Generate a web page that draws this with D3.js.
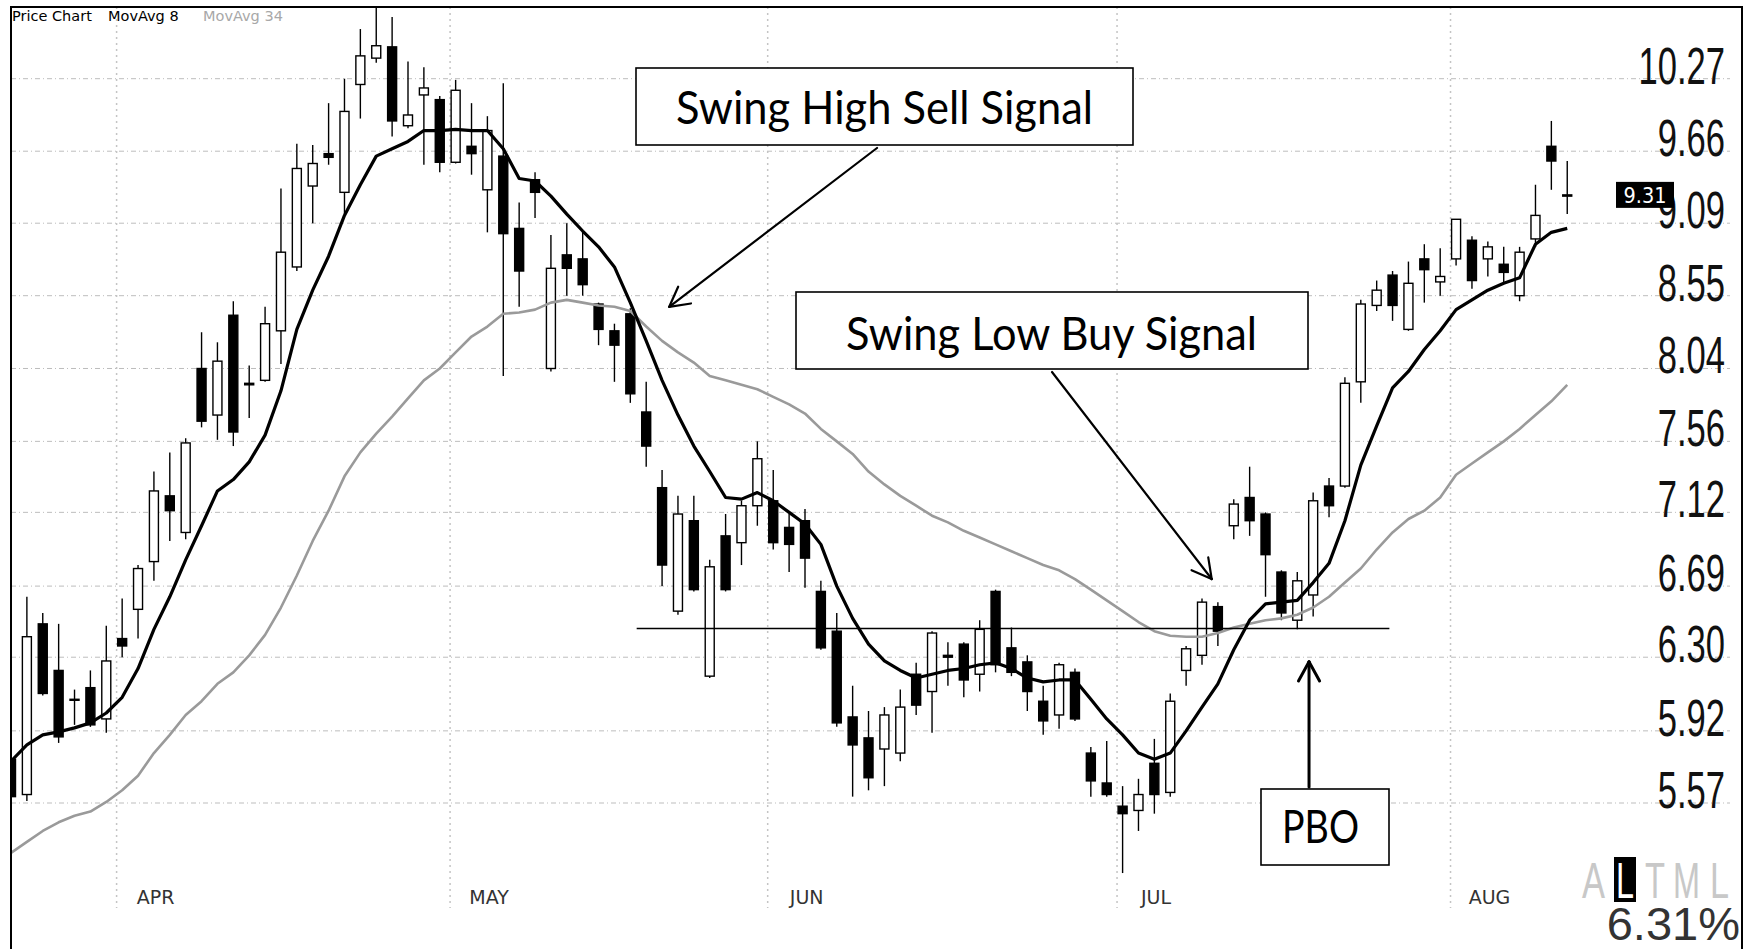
<!DOCTYPE html>
<html>
<head>
<meta charset="utf-8">
<script src="https://cdn.jsdelivr.net/npm/d3@7/dist/d3.min.js"></script>
<style>
  body { margin: 0; background: #fff; }
  svg { display: block; }
</style>
</head>
<body>
<div id="chart"></div>
<script>
// daily candles (index 0 .. 98)
const opens = [5.78, 5.61, 6.48, 6.23, 6.08, 6.14, 5.98, 6.40, 6.56, 6.83,
  7.22, 7.00, 8.04, 7.73, 8.41, 7.94, 7.96, 8.30, 8.76, 9.38,
  9.64, 9.33, 10.22, 10.45, 10.55, 9.87, 10.13, 10.09, 9.57, 9.70,
  9.35, 9.62, 9.05, 9.43, 8.04, 8.85, 8.82, 8.49, 8.30, 8.42,
  7.75, 7.27, 6.55, 7.07, 6.20, 6.98, 6.94, 7.16, 7.19, 7.03,
  7.07, 6.66, 6.44, 5.99, 5.885, 5.83, 5.81, 6.21, 6.12, 6.31,
  6.37, 6.21, 6.66, 6.35, 6.275, 6.07, 6.00, 6.22, 5.81, 5.665,
  5.555, 5.535, 5.76, 5.62, 6.23, 6.31, 6.575, 7.04, 7.21, 7.11,
  6.77, 6.50, 6.64, 7.28, 7.28, 7.95, 8.48, 8.70, 8.31, 8.82,
  8.65, 8.82, 8.96, 8.82, 8.78, 8.55, 8.97, 9.70, 9.30];
const highs = [5.80, 6.63, 6.54, 6.48, 6.13, 6.23, 6.47, 6.62, 6.81, 7.37,
  7.49, 7.58, 8.29, 8.22, 8.51, 8.06, 8.47, 9.36, 9.72, 9.71,
  10.06, 10.27, 10.71, 10.95, 10.82, 10.42, 10.37, 10.12, 10.26, 10.06,
  9.95, 10.23, 9.25, 9.49, 9.00, 9.09, 9.03, 8.50, 8.35, 8.46,
  7.95, 7.38, 7.22, 7.22, 6.84, 7.11, 7.19, 7.56, 7.38, 7.11,
  7.14, 6.72, 6.54, 6.15, 6.02, 6.04, 6.13, 6.27, 6.44, 6.38,
  6.38, 6.50, 6.67, 6.46, 6.31, 6.15, 6.27, 6.24, 5.84, 5.87,
  5.65, 5.685, 5.88, 6.11, 6.36, 6.62, 6.60, 7.20, 7.40, 7.12,
  6.78, 6.77, 7.24, 7.33, 7.98, 8.52, 8.66, 8.73, 8.80, 8.93,
  8.90, 9.12, 8.99, 8.95, 8.91, 8.91, 9.39, 9.91, 9.58];
const lows = [5.58, 5.58, 6.10, 5.86, 5.95, 5.94, 5.91, 6.30, 6.40, 6.72,
  6.95, 6.96, 7.65, 7.57, 7.53, 7.71, 7.95, 8.07, 8.73, 9.09,
  9.55, 9.16, 9.93, 10.41, 9.78, 9.85, 9.55, 9.49, 9.56, 9.47,
  9.02, 7.99, 8.47, 9.13, 8.02, 8.55, 8.55, 8.20, 7.95, 7.81,
  7.40, 6.69, 6.53, 6.66, 6.19, 6.66, 6.81, 7.04, 6.90, 6.77,
  6.68, 6.34, 5.94, 5.60, 5.63, 5.65, 5.77, 6.00, 5.91, 6.15,
  6.09, 6.12, 6.22, 6.20, 6.02, 5.90, 5.93, 5.97, 5.60, 5.60,
  5.25, 5.44, 5.52, 5.60, 6.15, 6.26, 6.36, 6.96, 6.98, 6.63,
  6.50, 6.45, 6.52, 7.09, 7.27, 7.81, 8.44, 8.37, 8.30, 8.50,
  8.55, 8.77, 8.60, 8.69, 8.64, 8.51, 8.91, 9.35, 9.16];
const closes = [5.60, 6.41, 6.11, 5.89, 6.08, 5.95, 6.28, 6.36, 6.79, 7.25,
  7.13, 7.55, 7.69, 8.09, 7.62, 7.93, 8.35, 8.87, 9.52, 9.56,
  9.61, 9.99, 10.47, 10.56, 9.91, 9.96, 10.19, 9.57, 10.17, 9.64,
  9.83, 9.01, 8.73, 9.33, 8.75, 8.75, 8.63, 8.31, 8.20, 7.87,
  7.53, 6.81, 7.11, 6.67, 6.80, 6.67, 7.16, 7.45, 6.94, 6.93,
  6.85, 6.35, 5.96, 5.85, 5.69, 6.00, 6.04, 6.05, 6.43, 6.30,
  6.18, 6.45, 6.26, 6.22, 6.12, 5.97, 6.26, 5.98, 5.675, 5.61,
  5.52, 5.61, 5.61, 6.07, 6.345, 6.60, 6.44, 7.17, 7.07, 6.87,
  6.54, 6.72, 7.19, 7.16, 7.94, 8.49, 8.59, 8.48, 8.64, 8.74,
  8.69, 9.12, 8.66, 8.91, 8.72, 8.87, 9.15, 9.58, 9.31];

// moving average lines as drawn on the picture
const movAvg8 = [5.77, 5.85, 5.90, 5.915, 5.935, 5.96, 6.01, 6.09, 6.24, 6.45,
  6.63, 6.84, 7.04, 7.25, 7.32, 7.43, 7.60, 7.89, 8.31, 8.59,
  8.84, 9.15, 9.39, 9.62, 9.68, 9.74, 9.83, 9.83, 9.84, 9.83,
  9.83, 9.68, 9.44, 9.42, 9.30, 9.16, 9.03, 8.91, 8.76, 8.50,
  8.23, 7.96, 7.73, 7.53, 7.37, 7.21, 7.20, 7.24, 7.19, 7.12,
  7.05, 6.93, 6.69, 6.51, 6.37, 6.28, 6.23, 6.19, 6.21, 6.23,
  6.24, 6.26, 6.27, 6.24, 6.19, 6.17, 6.18, 6.18, 6.08, 5.98,
  5.90, 5.81, 5.78, 5.81, 5.92, 6.04, 6.16, 6.34, 6.50, 6.59,
  6.60, 6.61, 6.71, 6.82, 7.07, 7.41, 7.66, 7.91, 8.02, 8.17,
  8.30, 8.45, 8.52, 8.59, 8.64, 8.68, 8.93, 9.02, 9.05];
const movAvg34 = [5.34, 5.39, 5.44, 5.48, 5.51, 5.53, 5.575, 5.63, 5.70, 5.81,
  5.90, 6.00, 6.07, 6.16, 6.22, 6.31, 6.42, 6.57, 6.75, 6.95,
  7.13, 7.34, 7.49, 7.61, 7.72, 7.84, 7.96, 8.04, 8.15, 8.26,
  8.33, 8.42, 8.43, 8.45, 8.50, 8.52, 8.50, 8.48, 8.47, 8.44,
  8.33, 8.23, 8.15, 8.08, 7.99, 7.96, 7.93, 7.90, 7.85, 7.80,
  7.74, 7.64, 7.56, 7.48, 7.37, 7.29, 7.22, 7.16, 7.10, 7.06,
  7.01, 6.97, 6.93, 6.89, 6.85, 6.81, 6.78, 6.73, 6.67, 6.61,
  6.55, 6.49, 6.44, 6.415, 6.41, 6.41, 6.43, 6.46, 6.48, 6.50,
  6.51, 6.53, 6.57, 6.63, 6.71, 6.79, 6.90, 7.00, 7.08, 7.13,
  7.21, 7.35, 7.42, 7.49, 7.56, 7.64, 7.73, 7.82, 7.93];

const priceTicks = [10.27, 9.66, 9.09, 8.55, 8.04, 7.56, 7.12, 6.69, 6.30, 5.92, 5.57];
const months = ['APR', 'MAY', 'JUN', 'JUL', 'AUG'];
const monthStart = [7, 28, 48, 70, 91];
const supportLevel = 6.455;
const supportFrom = 39.4, supportTo = 86.8;
const rangeLetters = ['A', 'L', 'T', 'M', 'L'];
const changeText = '6.31%';

const width = 1748, height = 949;
const plotLeft = 11, plotTop = 7, plotRight = 1742;
const step = 15.88;

const x = d3.scaleLinear()
  .domain([0, closes.length - 1])
  .range([plotLeft, plotLeft + step * (closes.length - 1)]);

// price axis is logarithmic (equal ratio between grid lines)
const y = d3.scaleLog()
  .domain([5.57, 10.27])
  .range([803, 78.7]);

const svg = d3.select('#chart').append('svg')
  .attr('width', width)
  .attr('height', height)
  .style('font-family', '"DejaVu Sans", Verdana, sans-serif');

svg.append('rect').attr('width', width).attr('height', height).attr('fill', '#fff');

svg.append('clipPath').attr('id', 'plot')
  .append('rect')
  .attr('x', plotLeft).attr('y', plotTop)
  .attr('width', plotRight - plotLeft).attr('height', height - plotTop);

// horizontal grid
svg.append('g').selectAll('line')
  .data(priceTicks)
  .join('line')
  .attr('x1', plotLeft).attr('x2', 1730)
  .attr('y1', d => y(d)).attr('y2', d => y(d))
  .attr('stroke', '#bdbdbd')
  .attr('stroke-dasharray', '5,3,1,3');

// month separators
svg.append('g').selectAll('line')
  .data(monthStart)
  .join('line')
  .attr('x1', d => x(d - 0.35)).attr('x2', d => x(d - 0.35))
  .attr('y1', plotTop).attr('y2', 908)
  .attr('stroke', '#c4c4c4')
  .attr('stroke-width', 1.5)
  .attr('stroke-dasharray', '2,4');

svg.append('g').selectAll('text')
  .data(monthStart)
  .join('text')
  .attr('x', d => x(d - 0.35) + 39)
  .attr('y', 904)
  .attr('text-anchor', 'middle')
  .attr('fill', '#333')
  .style('font-size', '19px')
  .text((d, i) => months[i]);

// candles
const candles = d3.range(closes.length).map(i => ({
  i: i, o: opens[i], h: highs[i], l: lows[i], c: closes[i]
}));

const gCandles = svg.append('g').attr('clip-path', 'url(#plot)');

gCandles.selectAll('line.wick')
  .data(candles)
  .join('line')
  .attr('class', 'wick')
  .attr('x1', d => x(d.i)).attr('x2', d => x(d.i))
  .attr('y1', d => y(d.h)).attr('y2', d => y(d.l))
  .attr('stroke', '#000')
  .attr('stroke-width', 1.4);

gCandles.selectAll('rect.body')
  .data(candles)
  .join('rect')
  .attr('class', 'body')
  .attr('x', d => x(d.i) - 4.5)
  .attr('width', 9)
  .attr('y', d => y(Math.max(d.o, d.c)))
  .attr('height', d => Math.max(1, Math.abs(y(d.o) - y(d.c))))
  .attr('fill', d => d.c >= d.o ? '#fff' : '#000')
  .attr('stroke', '#000')
  .attr('stroke-width', 1.4);

// moving averages
const line = d3.line()
  .x((d, i) => x(i))
  .y(d => y(d));

gCandles.append('path')
  .datum(movAvg34)
  .attr('fill', 'none')
  .attr('stroke', '#9a9a9a')
  .attr('stroke-width', 2.6)
  .attr('stroke-linejoin', 'round')
  .attr('d', line);

gCandles.append('path')
  .datum(movAvg8)
  .attr('fill', 'none')
  .attr('stroke', '#000')
  .attr('stroke-width', 3.2)
  .attr('stroke-linejoin', 'round')
  .attr('d', line);

// support line
svg.append('line')
  .attr('x1', x(supportFrom)).attr('x2', x(supportTo))
  .attr('y1', y(supportLevel)).attr('y2', y(supportLevel))
  .attr('stroke', '#000')
  .attr('stroke-width', 1.6);

// frame
svg.append('path')
  .attr('d', 'M' + plotLeft + ',' + height + 'V' + plotTop + 'H' + plotRight + 'V' + height)
  .attr('fill', 'none')
  .attr('stroke', '#000')
  .attr('stroke-width', 2);

// legend
const legend = svg.append('g').style('font-size', '14.5px');
legend.append('text').attr('x', 12).attr('y', 21).attr('fill', '#000').text('Price Chart');
legend.append('text').attr('x', 108).attr('y', 21).attr('fill', '#000').text('MovAvg 8');
legend.append('text').attr('x', 203).attr('y', 21).attr('fill', '#a8a8a8').text('MovAvg 34');

// price labels
svg.append('g').selectAll('text')
  .data(priceTicks)
  .join('text')
  .attr('transform', d => 'translate(1725,' + (y(d) + 5) + ') scale(0.665,1)')
  .attr('text-anchor', 'end')
  .attr('fill', '#111')
  .style('font', '52px "Liberation Sans", Arial, sans-serif')
  .text(d => d.toFixed(2));

// last price marker
const last = closes[closes.length - 1];
svg.append('rect')
  .attr('x', 1616).attr('y', y(last) - 13)
  .attr('width', 58).attr('height', 26)
  .attr('fill', '#000');
svg.append('text')
  .attr('transform', 'translate(1645,' + (y(last) + 8) + ') scale(0.92,1)')
  .attr('text-anchor', 'middle')
  .attr('fill', '#fff')
  .style('font-size', '21px')
  .text(last.toFixed(2));

// range selector and change
const letterLeft = [1582, 1616, 1645, 1673, 1710];
const letterWidth = [23, 18, 20, 27, 19];
svg.append('rect')
  .attr('x', 1614).attr('y', 857)
  .attr('width', 22).attr('height', 45)
  .attr('fill', '#000');
svg.append('g').selectAll('text')
  .data(rangeLetters)
  .join('text')
  .attr('x', (d, i) => letterLeft[i])
  .attr('y', 898)
  .attr('textLength', (d, i) => letterWidth[i])
  .attr('lengthAdjust', 'spacingAndGlyphs')
  .attr('fill', (d, i) => i === 1 ? '#fff' : '#c8c8c8')
  .style('font', '50px "Liberation Sans", Arial, sans-serif')
  .text(d => d);
svg.append('text')
  .attr('x', 1740).attr('y', 940)
  .attr('text-anchor', 'end')
  .attr('fill', '#333')
  .style('font', '47px "Liberation Sans", Arial, sans-serif')
  .text(changeText);

// annotations
function arrow(x1, y1, x2, y2, w) {
  const g = svg.append('g')
    .attr('stroke', '#000')
    .attr('stroke-width', w)
    .attr('stroke-linecap', 'round');
  g.append('line').attr('x1', x1).attr('y1', y1).attr('x2', x2).attr('y2', y2);
  const a = Math.atan2(y1 - y2, x1 - x2);
  [-0.5, 0.5].forEach(da => {
    g.append('line')
      .attr('x1', x2).attr('y1', y2)
      .attr('x2', x2 + 22 * Math.cos(a + da))
      .attr('y2', y2 + 22 * Math.sin(a + da));
  });
}

function note(bx, by, bw, bh, tx, ty, len, label) {
  svg.append('rect')
    .attr('x', bx).attr('y', by)
    .attr('width', bw).attr('height', bh)
    .attr('fill', '#fff')
    .attr('stroke', '#000')
    .attr('stroke-width', 1.6);
  svg.append('text')
    .attr('x', tx).attr('y', ty)
    .attr('textLength', len)
    .attr('lengthAdjust', 'spacingAndGlyphs')
    .attr('fill', '#000')
    .style('font', '46px Lato, "Open Sans", sans-serif')
    .text(label);
}

note(636, 68, 497, 77, 676, 124, 417, 'Swing High Sell Signal');
arrow(877, 148, x(41.45), y(8.47), 2.2);

note(796, 292, 512, 77, 846, 350, 411, 'Swing Low Buy Signal');
arrow(1052, 372, x(75.61), y(6.73), 2.2);

note(1261, 789, 128, 76, 1282, 843, 77, 'PBO');
arrow(x(81.74), 787, x(81.74), y(6.276), 3);
</script>
</body>
</html>
